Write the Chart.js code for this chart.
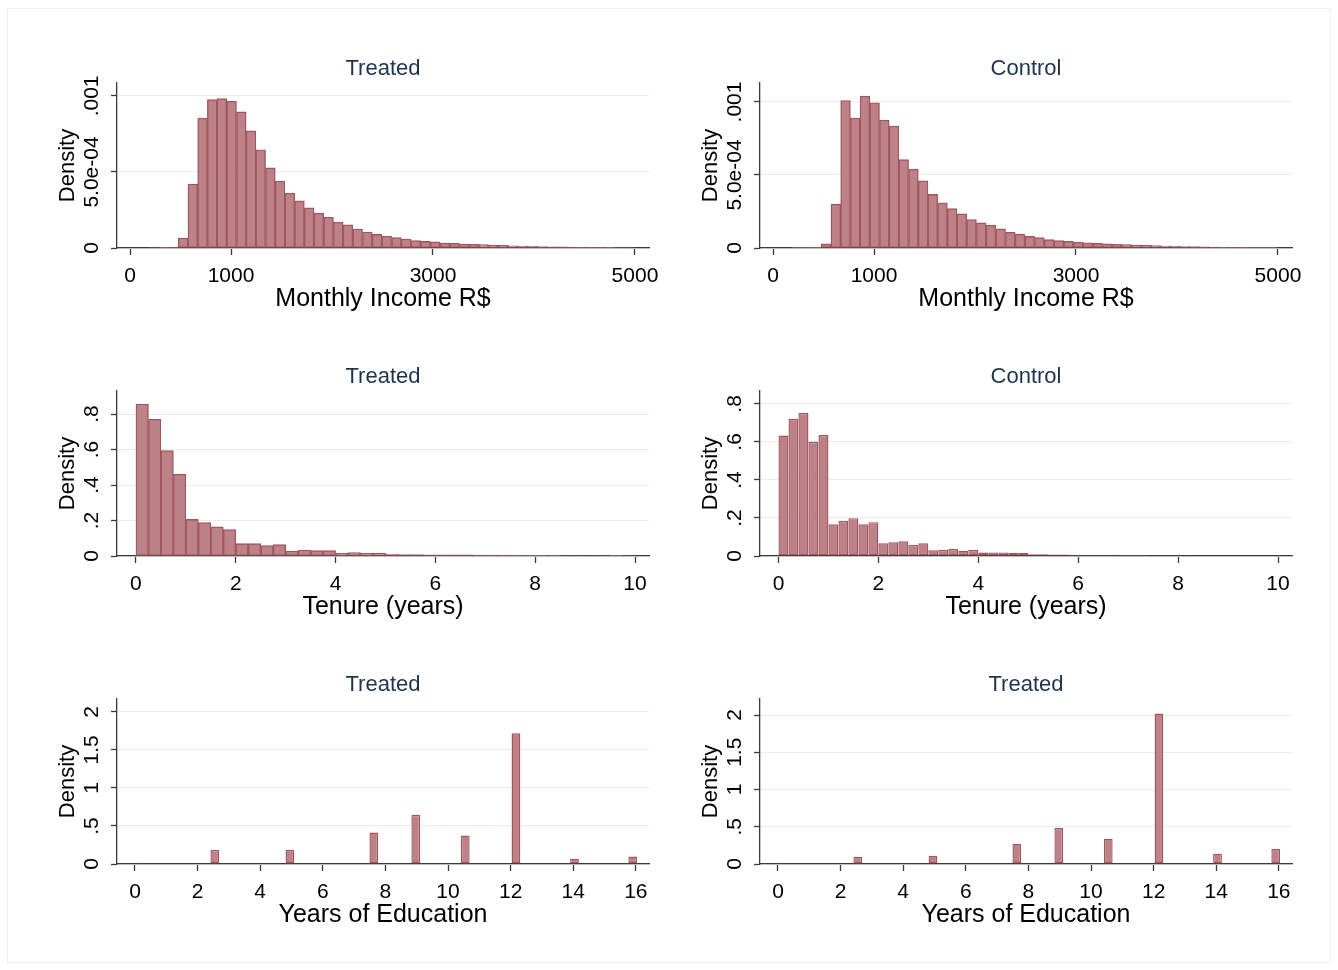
<!DOCTYPE html>
<html>
<head>
<meta charset="utf-8">
<script src="https://cdn.jsdelivr.net/npm/chart.js@4.4.1/dist/chart.umd.min.js"></script>
<style>
  body { margin: 0; background: #fff; width: 1338px; height: 970px; position: relative; overflow: hidden; }
  #frame { position: absolute; left: 7px; top: 8px; width: 1322px; height: 953px; border: 1px solid #f0f0f0; }
  canvas { position: absolute; }
</style>
</head>
<body>
<div id="frame"></div>
<canvas id="incTreated" width="640" height="264" style="left:45px;top:51px"></canvas>
<canvas id="incControl" width="640" height="264" style="left:688px;top:51px"></canvas>
<canvas id="tenTreated" width="640" height="264" style="left:45px;top:359px"></canvas>
<canvas id="tenControl" width="640" height="264" style="left:688px;top:359px"></canvas>
<canvas id="eduTreated" width="640" height="264" style="left:45px;top:667px"></canvas>
<canvas id="eduControl" width="640" height="264" style="left:688px;top:667px"></canvas>
<script>
// monthly income, bins of 96 starting at 190, density x 1e-3
const incomeBinStart = 190;
const incomeBinWidth = 96;
const incomeTreated = [0.003, 0.005, 0.006, 0.066, 0.42, 0.855, 0.976, 0.982, 0.965, 0.895,
  0.77, 0.646, 0.527, 0.44, 0.36, 0.31, 0.264, 0.229, 0.202, 0.169,
  0.152, 0.125, 0.105, 0.09, 0.077, 0.068, 0.059, 0.048, 0.044, 0.04,
  0.033, 0.031, 0.026, 0.024, 0.022, 0.019, 0.017, 0.015, 0.013, 0.011,
  0.009, 0.008, 0.007, 0.006, 0.005, 0.005, 0.004, 0.004, 0.003, 0.003];
const incomeControl = [0.003, 0.004, 0.006, 0.028, 0.30, 1.01, 0.89, 1.04, 0.995, 0.876,
  0.835, 0.605, 0.54, 0.46, 0.367, 0.31, 0.27, 0.234, 0.195, 0.172,
  0.156, 0.131, 0.108, 0.094, 0.08, 0.071, 0.057, 0.05, 0.045, 0.04,
  0.036, 0.032, 0.028, 0.025, 0.023, 0.02, 0.018, 0.016, 0.014, 0.012,
  0.01, 0.009, 0.008, 0.007, 0.006, 0.005, 0.005, 0.004, 0.004, 0.003];
const incomeXTicks = [0, 1000, 3000, 5000];
const incomeYTicks = [0, 0.0005, 0.001];
const incomeYLabels = ['0', '5.0e-04', '.001'];

// tenure (years): treated bins of 0.25, control bins of 0.2
const tenureTreatedWidth = 0.25;
const tenureControlWidth = 0.2;
const tenureTreated = [0.856, 0.771, 0.594, 0.461, 0.206, 0.189, 0.164, 0.149, 0.07, 0.07,
  0.059, 0.064, 0.028, 0.034, 0.03, 0.03, 0.015, 0.019, 0.015, 0.017,
  0.009, 0.008, 0.008, 0.007, 0.006, 0.006, 0.006, 0.005, 0.005, 0.005,
  0.004, 0.004, 0.004, 0.004, 0.003, 0.003, 0.003, 0.003, 0.002, 0.003];
const tenureControl = [0.634, 0.722, 0.752, 0.601, 0.636, 0.167, 0.185, 0.199, 0.167, 0.178,
  0.067, 0.072, 0.077, 0.058, 0.067, 0.03, 0.033, 0.037, 0.028, 0.032,
  0.018, 0.019, 0.019, 0.016, 0.016, 0.009, 0.009, 0.008, 0.008, 0.007,
  0.007, 0.006, 0.006, 0.006, 0.005, 0.005, 0.005, 0.004, 0.004, 0.004,
  0.004, 0.003, 0.003, 0.003, 0.003, 0.003, 0.003, 0.002, 0.002, 0.003];
const tenureXTicks = [0, 2, 4, 6, 8, 10];
const tenureYTicks = [0, 0.2, 0.4, 0.6, 0.8];
const tenureYLabels = ['0', '.2', '.4', '.6', '.8'];

// years of education
const eduCenters = [0.15, 2.55, 4.95, 7.63, 8.97, 10.55, 12.17, 14.04, 15.9];
const eduWidth = 0.28;
const eduTreated = [0.018, 0.185, 0.185, 0.414, 0.648, 0.374, 1.718, 0.07, 0.097];
const eduControl = [0.018, 0.098, 0.112, 0.273, 0.483, 0.34, 2.02, 0.139, 0.201];
const eduXTicks = [0, 2, 4, 6, 8, 10, 12, 14, 16];
const eduYTicks = [0, 0.5, 1, 1.5, 2];
const eduYLabels = ['0', '.5', '1', '1.5', '2'];

const FONT = '"Liberation Sans", Arial, sans-serif';
const BAR_FILL = '#bd8287';
const BAR_EDGE = '#a3555e';
const AXIS = '#3a3a3a';
const GRID = '#e4edf0';
const TITLE_COLOR = '#1f3350';

Chart.defaults.font.family = FONT;

function binCenters(start, width, n) {
  const out = [];
  for (let i = 0; i < n; i++) out.push(start + width * (i + 0.5));
  return out;
}

// stata style vertical tick labels on the y axis
function yLabelPlugin(values, labels) {
  return {
    id: 'yLabels',
    afterDraw(chart) {
      const ctx = chart.ctx;
      const y = chart.scales.y;
      const x0 = chart.chartArea.left - 25;
      ctx.save();
      ctx.font = '21px ' + FONT;
      ctx.fillStyle = '#000';
      ctx.textAlign = 'center';
      ctx.textBaseline = 'middle';
      values.forEach((v, i) => {
        ctx.save();
        ctx.translate(x0, y.getPixelForValue(v));
        ctx.rotate(-Math.PI / 2);
        ctx.fillText(labels[i], 0, 0);
        ctx.restore();
      });
      ctx.restore();
    }
  };
}

function drawHist(id, p) {
  const unit = p.unit || 1;
  const pts = p.centers.map((c, i) => ({ x: c, y: p.values[i] * unit }));
  let gap = Infinity;
  for (let i = 1; i < p.centers.length; i++) {
    gap = Math.min(gap, p.centers[i] - p.centers[i - 1]);
  }
  new Chart(document.getElementById(id), {
    type: 'bar',
    data: {
      datasets: [{
        data: pts,
        backgroundColor: BAR_FILL,
        borderColor: BAR_EDGE,
        borderWidth: 1.4,
        borderSkipped: false,
        barPercentage: p.width / gap,
        categoryPercentage: 1
      }]
    },
    options: {
      responsive: false,
      animation: false,
      devicePixelRatio: 1,
      layout: { padding: { left: 0, right: 36, top: 0, bottom: 0 } },
      plugins: {
        legend: { display: false },
        tooltip: { enabled: false },
        title: {
          display: true,
          fullSize: false,
          text: p.title,
          color: TITLE_COLOR,
          font: { size: 22, weight: 'normal', lineHeight: 26 / 22 },
          padding: { top: 5, bottom: 1 }
        }
      },
      scales: {
        x: {
          type: 'linear',
          min: p.xMin,
          max: p.xMax,
          offset: false,
          afterBuildTicks: s => { s.ticks = p.xTicks.map(v => ({ value: v })); },
          afterFit: s => { s.height = 67; },
          grid: { display: true, offset: false, drawOnChartArea: false, drawTicks: true,
                  tickLength: 7, tickColor: AXIS, tickWidth: 1.3 },
          border: { display: true, color: AXIS, width: 1.3 },
          ticks: { color: '#000', font: { size: 21 }, padding: 9, maxRotation: 0,
                   autoSkip: false, callback: v => String(v) },
          title: { display: true, text: p.xTitle, color: '#000',
                   font: { size: 25, lineHeight: 1.2 }, padding: { top: 0, bottom: 1 } }
        },
        y: {
          min: 0,
          max: p.yMax,
          afterBuildTicks: s => { s.ticks = p.yTicks.map(v => ({ value: v })); },
          afterFit: s => { s.width = 72; },
          grid: { color: GRID, lineWidth: 1, drawTicks: true, tickLength: 6,
                  tickColor: AXIS, tickWidth: 1.3 },
          border: { display: true, color: AXIS, width: 1.3 },
          ticks: { display: false },
          title: { display: true, text: 'Density', color: '#000',
                   font: { size: 22, lineHeight: 26 / 22 }, padding: { top: 10, bottom: 0 } }
        }
      }
    },
    plugins: [yLabelPlugin(p.yTicks, p.yLabels)]
  });
}

const incomeCenters = binCenters(incomeBinStart, incomeBinWidth, incomeTreated.length);

drawHist('incTreated', {
  title: 'Treated', xTitle: 'Monthly Income R$',
  centers: incomeCenters, width: incomeBinWidth, values: incomeTreated, unit: 1e-3,
  xMin: -129, xMax: 5139, xTicks: incomeXTicks,
  yMax: 0.001085, yTicks: incomeYTicks, yLabels: incomeYLabels
});
drawHist('incControl', {
  title: 'Control', xTitle: 'Monthly Income R$',
  centers: incomeCenters, width: incomeBinWidth, values: incomeControl, unit: 1e-3,
  xMin: -129, xMax: 5139, xTicks: incomeXTicks,
  yMax: 0.00113, yTicks: incomeYTicks, yLabels: incomeYLabels
});
drawHist('tenTreated', {
  title: 'Treated', xTitle: 'Tenure (years)',
  centers: binCenters(0, tenureTreatedWidth, tenureTreated.length), width: tenureTreatedWidth,
  values: tenureTreated,
  xMin: -0.38, xMax: 10.28, xTicks: tenureXTicks,
  yMax: 0.93, yTicks: tenureYTicks, yLabels: tenureYLabels
});
drawHist('tenControl', {
  title: 'Control', xTitle: 'Tenure (years)',
  centers: binCenters(0, tenureControlWidth, tenureControl.length), width: tenureControlWidth,
  values: tenureControl,
  xMin: -0.37, xMax: 10.28, xTicks: tenureXTicks,
  yMax: 0.868, yTicks: tenureYTicks, yLabels: tenureYLabels
});
drawHist('eduTreated', {
  title: 'Treated', xTitle: 'Years of Education',
  centers: eduCenters, width: eduWidth, values: eduTreated,
  xMin: -0.575, xMax: 16.42, xTicks: eduXTicks,
  yMax: 2.17, yTicks: eduYTicks, yLabels: eduYLabels
});
drawHist('eduControl', {
  title: 'Treated', xTitle: 'Years of Education',
  centers: eduCenters, width: eduWidth, values: eduControl,
  xMin: -0.575, xMax: 16.42, xTicks: eduXTicks,
  yMax: 2.215, yTicks: eduYTicks, yLabels: eduYLabels
});
</script>
</body>
</html>
